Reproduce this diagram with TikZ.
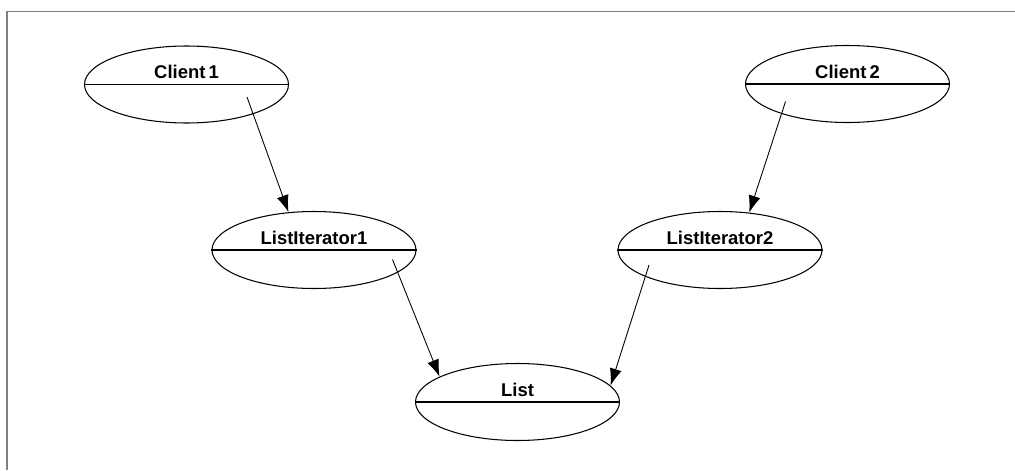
\documentclass[tikz,border=0pt]{standalone}
\usepackage{fontspec}
\setmainfont{Liberation Sans}
\usetikzlibrary{shapes.geometric,arrows.meta}
\begin{document}
\begin{tikzpicture}[obj/.style={ellipse,draw,line width=0.6pt,minimum width=4.08cm,minimum height=1.54cm,inner sep=0pt},
    lbl/.style={label={[yshift=0.25cm,font=\fontsize{10.5}{12}\selectfont\bfseries]center:#1}},
    arr/.style={-{Latex[length=0.34cm,width=0.24cm]},line width=0.5pt}]
        \useasboundingbox (0,0) rectangle (20.3,9.4);
        \draw[gray,line width=0.8pt] (0.14,0) -- (0.14,9.17) -- (20.3,9.17);
        % objects
        \node[obj,lbl=Client\,1] (c1) at (3.73,7.71) {};
        \node[obj,lbl=Client\,2] (c2) at (16.95,7.72) {};
        \node[obj,lbl=ListIterator1] (li1) at (6.28,4.40) {};
        \node[obj,lbl=ListIterator2] (li2) at (14.40,4.40) {};
        \node[obj,lbl=List] (list) at (10.35,1.36) {};
        \foreach \n in {c1,c2,li1,li2,list}{\draw[line width=0.6pt] (\n.west) -- (\n.east);}
        % references
        \coordinate (c1s) at ([shift={(1.21,-0.25)}]c1.center);
        \coordinate (c2s) at ([shift={(-1.24,-0.35)}]c2.center);
        \coordinate (li1s) at ([shift={(1.57,-0.19)}]li1.center);
        \coordinate (li2s) at ([shift={(-1.42,-0.30)}]li2.center);
        \draw[arr] (c1s) -- (li1.124);
        \draw[arr] (c2s) -- (li2.52);
        \draw[arr] (li1s) -- (list.162);
        \draw[arr] (li2s) -- (list.10);
    \end{tikzpicture}
\end{document}
